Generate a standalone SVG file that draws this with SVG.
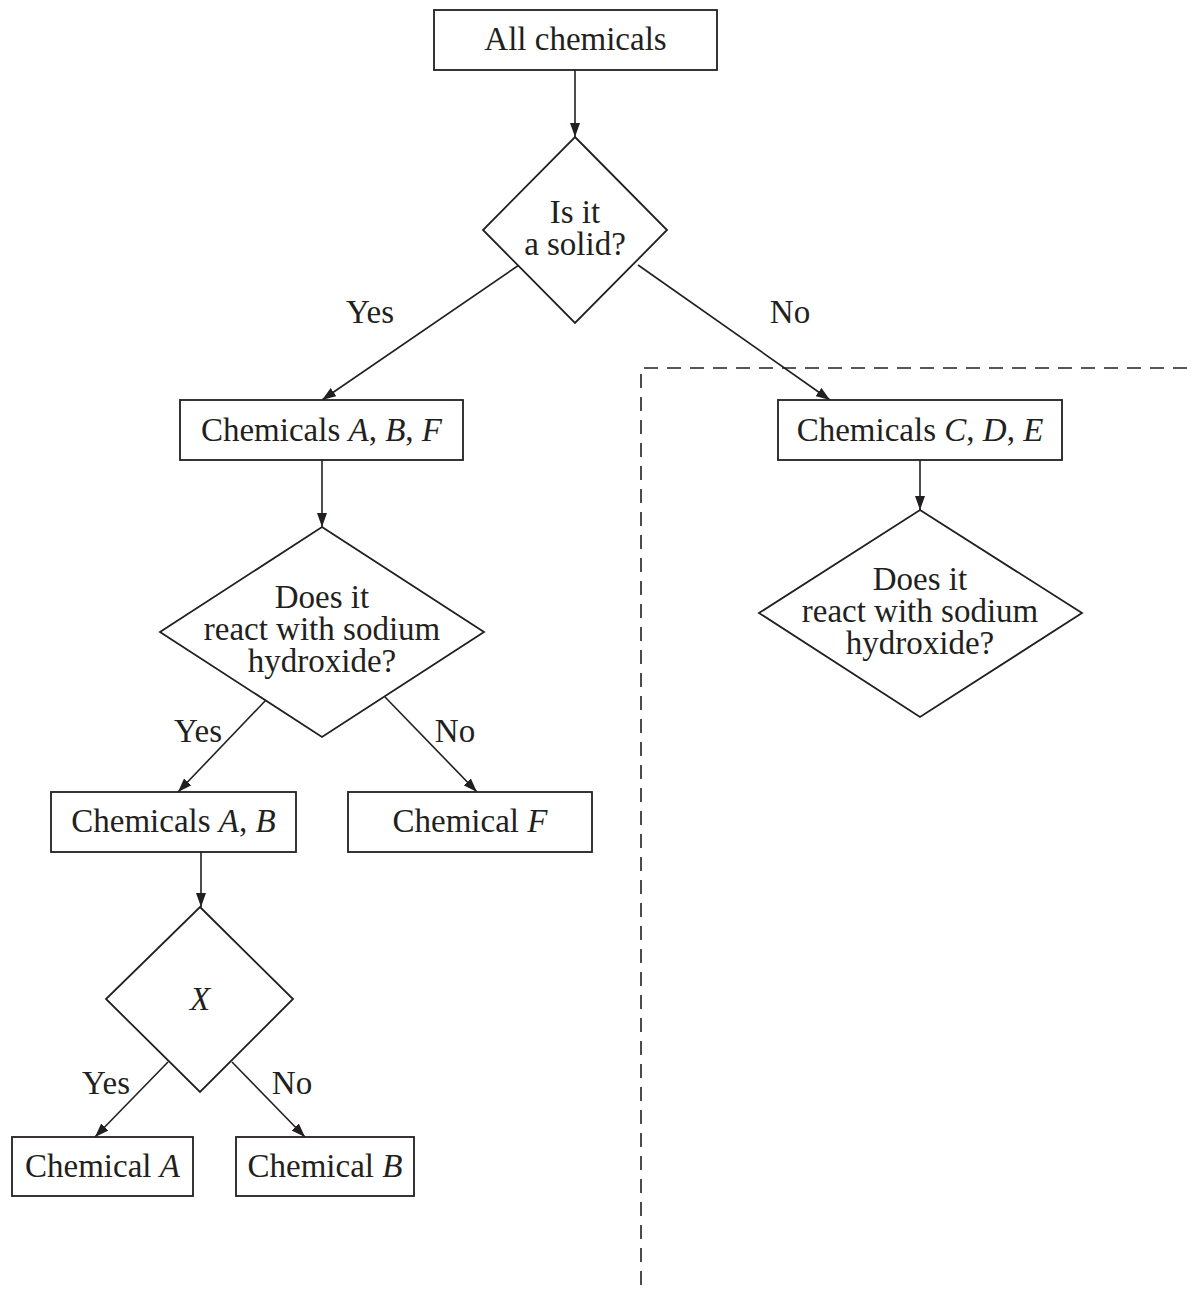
<svg xmlns="http://www.w3.org/2000/svg" width="1187" height="1290" viewBox="0 0 1187 1290">
<style>
rect, polygon.d { fill: #fff; stroke: #231f20; stroke-width: 1.8; }
text { font-family: "Liberation Serif", "Times New Roman", serif; font-size: 33px; fill: #231f20; text-anchor: middle; }
.i { font-style: italic; }
.c line { stroke: #231f20; stroke-width: 1.6; }
.dash { fill: none; stroke: #231f20; stroke-width: 1.6; stroke-dasharray: 14 9; }
</style>
<defs>
<marker id="ah" viewBox="0 0 14 10" refX="14" refY="5" markerWidth="14" markerHeight="10" markerUnits="userSpaceOnUse" orient="auto">
<path d="M0,0 L14,5 L0,10 z" fill="#231f20"/>
</marker>
</defs>
<path class="dash" d="M641,1285 L641,368 L1187,368"/>
<g class="c">
<line x1="575" y1="70" x2="575" y2="137" marker-end="url(#ah)"/>
<line x1="522" y1="263" x2="322" y2="400" marker-end="url(#ah)"/>
<line x1="638" y1="265" x2="830" y2="400" marker-end="url(#ah)"/>
<line x1="322" y1="460" x2="322" y2="527" marker-end="url(#ah)"/>
<line x1="266" y1="700" x2="178" y2="792" marker-end="url(#ah)"/>
<line x1="385" y1="697" x2="477" y2="792" marker-end="url(#ah)"/>
<line x1="201" y1="852" x2="201" y2="907" marker-end="url(#ah)"/>
<line x1="168" y1="1062" x2="95" y2="1137" marker-end="url(#ah)"/>
<line x1="232" y1="1062" x2="305" y2="1137" marker-end="url(#ah)"/>
<line x1="920" y1="460" x2="920" y2="510" marker-end="url(#ah)"/>
</g>
<g id="labels">
<text x="370" y="323">Yes</text>
<text x="790" y="323">No</text>
<text x="198" y="742">Yes</text>
<text x="455" y="742">No</text>
<text x="106" y="1094">Yes</text>
<text x="292" y="1094">No</text>
</g>
<g id="all"><rect x="434" y="10" width="283" height="60"/><text x="575.5" y="50">All chemicals</text></g>
<g id="solid"><polygon class="d" points="575,137 667,230 575,323 483,230"/><text x="575" y="223">Is it</text><text x="575" y="255">a solid?</text></g>
<g id="abf"><rect x="180" y="400" width="283" height="60"/><text x="321.5" y="441">Chemicals <tspan class="i">A</tspan>, <tspan class="i">B</tspan>, <tspan class="i">F</tspan></text></g>
<g id="cde"><rect x="778" y="400" width="284" height="60"/><text x="920" y="441">Chemicals <tspan class="i">C</tspan>, <tspan class="i">D</tspan>, <tspan class="i">E</tspan></text></g>
<g id="naoh1"><polygon class="d" points="322,527 484,632 322,737 160,632"/><text x="322" y="608">Does it</text><text x="322" y="640">react with sodium</text><text x="322" y="672">hydroxide?</text></g>
<g id="naoh2"><polygon class="d" points="920,510 1082,613 920,717 759,613"/><text x="920" y="590">Does it</text><text x="920" y="622">react with sodium</text><text x="920" y="654">hydroxide?</text></g>
<g id="ab"><rect x="51" y="792" width="245" height="60"/><text x="173.5" y="832">Chemicals <tspan class="i">A</tspan>, <tspan class="i">B</tspan></text></g>
<g id="f"><rect x="348" y="792" width="244" height="60"/><text x="470" y="832">Chemical <tspan class="i">F</tspan></text></g>
<g id="x"><polygon class="d" points="200,907 293,999 200,1092 106,999"/><text x="200" y="1010" class="i">X</text></g>
<g id="a"><rect x="12" y="1137" width="181" height="59"/><text x="102.5" y="1177">Chemical <tspan class="i">A</tspan></text></g>
<g id="b"><rect x="236" y="1137" width="178" height="59"/><text x="325" y="1177">Chemical <tspan class="i">B</tspan></text></g>
</svg>
